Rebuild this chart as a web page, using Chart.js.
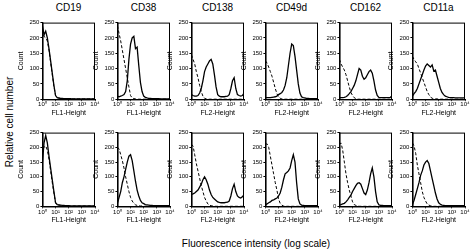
<!DOCTYPE html>
<html lang="en">
<head>
<meta charset="UTF-8">
<title>Relative cell number vs fluorescence</title>
<script src="https://cdn.jsdelivr.net/npm/chart.js"></script>
<style>
  html, body { margin: 0; padding: 0; background: #fff; }
  body {
    width: 471px; height: 251px; position: relative; overflow: hidden;
    font-family: 'Liberation Sans', Arial, sans-serif; color: #000;
  }
  canvas { position: absolute; }
  .ttl { position: absolute; width: 80px; text-align: center; font-size: 10px; line-height: 12px; }
  .ylab {
    position: absolute; left: 9px; top: 122px; font-size: 10px; white-space: nowrap;
    transform: translate(-50%, -50%) rotate(-90deg);
  }
  .xlab { position: absolute; left: 256px; top: 243px; font-size: 10px; white-space: nowrap; transform: translate(-50%, -50%); }
</style>
</head>
<body>
<div class="ylab">Relative cell number</div>
<div class="xlab">Fluorescence intensity (log scale)</div>

<script>
// channel value at each histogram bin (8 bins per decade)
const xPos = [1, 1.33, 1.78, 2.37, 3.16, 4.22, 5.62, 7.5, 10, 13.3, 17.8, 23.7, 31.6, 42.2, 56.2, 75,
  100, 133, 178, 237, 316, 422, 562, 750, 1000, 1334, 1778, 2371, 3162, 4217, 5623, 7499, 10000];

const markers = ['CD19', 'CD38', 'CD138', 'CD49d', 'CD162', 'CD11a'];
const channels = ['FL1-Height', 'FL1-Height', 'FL2-Height', 'FL2-Height', 'FL2-Height', 'FL2-Height'];
const decadeTicks = [1, 10, 100, 1000, 10000];
const decadeLabels = ['10⁰', '10¹', '10²', '10³', '10⁴'];

// top row: stained (solid) and control (dashed)
const cd19TopStained  = [240,210,222,200,165,125,85,45,12,5,4,3,3,2,2,2,2,2,1,1,1,1,1,1,1,1,1,1,1,1,1,1,1];
const cd19TopControl  = [225,205,200,190,160,120,80,42,12,5,3,3,2,2,1,1,1,1,1,1,1,1,1,1,1,1,1,1,1,1,1,1,1];
const cd38TopStained  = [10,8,10,12,15,25,60,130,180,200,205,165,170,110,55,25,10,6,4,3,3,2,2,2,2,2,1,1,1,1,1,1,1];
const cd38TopControl  = [240,215,190,160,130,100,70,40,12,4,2,1,0,0,0,0,0,0,0,0,0,0,0,0,0,0,0,0,0,0,0,0,0];
const cd138TopStained = [15,12,10,10,12,20,35,60,90,105,115,125,130,115,80,40,15,10,8,8,8,9,10,15,35,60,70,35,15,12,10,12,20];
const cd138TopControl = [145,130,115,90,70,45,25,10,3,1,0,0,0,0,0,0,0,0,0,0,0,0,0,0,0,0,0,0,0,0,0,0,0];
const cd49dTopStained = [5,5,5,5,6,7,8,10,15,18,22,30,45,70,110,150,180,175,140,95,50,20,8,5,4,3,3,2,2,2,2,2,2];
const cd49dTopControl = [125,118,105,90,75,55,35,18,8,3,1,0,0,0,0,0,0,0,0,0,0,0,0,0,0,0,0,0,0,0,0,0,0];
const cd162TopStained = [5,5,5,6,8,12,18,25,35,45,60,80,100,95,75,65,70,80,90,95,85,60,30,12,6,5,5,5,5,5,5,6,10];
const cd162TopControl = [130,115,105,95,80,60,40,22,12,5,2,0,0,0,0,0,0,0,0,0,0,0,0,0,0,0,0,0,0,0,0,0,0];
const cd11aTopStained = [10,18,25,35,50,65,80,95,108,115,110,105,112,92,95,75,55,35,22,15,10,8,6,5,5,5,4,4,4,4,4,4,4];
const cd11aTopControl = [140,130,122,115,100,85,70,55,40,25,15,7,3,2,1,1,0,0,0,0,0,0,0,0,0,0,0,0,0,0,0,0,0];

// bottom row
const cd19BotStained  = [150,215,240,215,170,130,90,50,12,6,5,4,3,3,2,2,2,1,1,1,1,1,1,1,1,1,1,1,1,1,1,1,1];
const cd19BotControl  = [200,200,205,190,160,120,80,45,12,5,4,3,2,2,1,1,1,1,1,1,1,1,1,1,1,1,1,1,1,1,1,1,1];
const cd38BotStained  = [10,30,50,80,100,125,150,170,175,155,120,85,55,35,20,12,9,6,5,4,3,3,2,2,2,2,2,2,2,2,2,2,2];
const cd38BotControl  = [200,195,175,155,130,100,75,50,30,18,10,5,3,2,1,1,0,0,0,0,0,0,0,0,0,0,0,0,0,0,0,0,0];
const cd138BotStained = [40,42,45,50,55,65,75,90,100,90,75,55,40,30,25,20,15,13,12,12,12,13,14,18,35,60,75,50,35,30,28,32,40];
const cd138BotControl = [210,205,175,145,120,95,70,50,30,18,8,4,2,1,0,0,0,0,0,0,0,0,0,0,0,0,0,0,0,0,0,0,0];
const cd49dBotStained = [5,8,12,15,20,22,25,28,35,45,65,90,110,115,120,130,155,175,150,80,25,8,4,3,2,2,2,2,2,2,2,2,2];
const cd49dBotControl = [210,212,200,170,140,110,80,55,25,10,4,1,0,0,0,0,0,0,0,0,0,0,0,0,0,0,0,0,0,0,0,0,0];
const cd162BotStained = [5,6,8,10,15,22,30,38,50,60,70,78,80,75,60,45,40,55,80,110,130,100,50,15,5,3,3,2,2,2,2,2,2];
const cd162BotControl = [210,215,190,150,110,80,55,35,15,6,3,1,0,0,0,0,0,0,0,0,0,0,0,0,0,0,0,0,0,0,0,0,0];
const cd11aBotStained = [5,20,40,60,80,105,120,140,150,155,145,120,95,70,45,25,12,7,4,3,2,2,2,2,2,2,2,2,2,2,2,2,2];
const cd11aBotControl = [215,205,180,140,110,80,50,30,18,8,4,2,1,0,0,0,0,0,0,0,0,0,0,0,0,0,0,0,0,0,0,0,0];

const topStained = [cd19TopStained, cd38TopStained, cd138TopStained, cd49dTopStained, cd162TopStained, cd11aTopStained];
const topControl = [cd19TopControl, cd38TopControl, cd138TopControl, cd49dTopControl, cd162TopControl, cd11aTopControl];
const botStained = [cd19BotStained, cd38BotStained, cd138BotStained, cd49dBotStained, cd162BotStained, cd11aBotStained];
const botControl = [cd19BotControl, cd38BotControl, cd138BotControl, cd49dBotControl, cd162BotControl, cd11aBotControl];

// page layout
const colLeft = [42, 117, 191, 265, 339, 412];
const plotW = 53;
const rows = [
  { top: 22, h: 83, stained: topStained, control: topControl },
  { top: 132, h: 80, stained: botStained, control: botControl }
];
const padT = 4, padR = 7, axisH = 18;

// draws the full frame around the plot area
const boxPlugin = {
  id: 'box',
  afterDraw(chart) {
    const a = chart.chartArea, ctx = chart.ctx;
    ctx.save();
    ctx.strokeStyle = '#000';
    ctx.lineWidth = 1;
    ctx.strokeRect(a.left + 0.5, a.top + 0.5, a.right - a.left - 1, a.bottom - a.top);
    ctx.restore();
  }
};

const tickFont = { family: "'Liberation Sans', Arial, sans-serif", size: 6 };
const titleFont = { family: "'Liberation Sans', Arial, sans-serif", size: 7 };

function toPoints(ys) {
  return xPos.map((x, i) => ({ x: x, y: ys[i] }));
}

markers.forEach((name, c) => {
  const t = document.createElement('div');
  t.className = 'ttl';
  t.textContent = name;
  t.style.left = (colLeft[c] + plotW / 2 - 40) + 'px';
  t.style.top = '2px';
  document.body.appendChild(t);
});

rows.forEach((row, r) => {
  markers.forEach((name, c) => {
    const cv = document.createElement('canvas');
    const w0 = 30 + plotW + padR, h = padT + row.h + axisH;
    cv.width = w0; cv.height = h;
    cv.style.top = (row.top - padT) + 'px';
    document.body.appendChild(cv);

    const chart = new Chart(cv.getContext('2d'), {
      type: 'line',
      data: {
        datasets: [
          {
            data: toPoints(row.control[c]),
            borderColor: '#000', borderWidth: 1, borderDash: [3, 2],
            pointRadius: 0, tension: 0, fill: false
          },
          {
            data: toPoints(row.stained[c]),
            borderColor: '#000', borderWidth: 1.3,
            pointRadius: 0, tension: 0, fill: false
          }
        ]
      },
      options: {
        responsive: false,
        animation: false,
        events: [],
        layout: { padding: { top: padT, right: padR, left: 0, bottom: 0 } },
        plugins: { legend: { display: false }, tooltip: { enabled: false } },
        scales: {
          x: {
            type: 'logarithmic', min: 1, max: 10000,
            afterBuildTicks: s => { s.ticks = decadeTicks.map(v => ({ value: v })); },
            afterFit: s => { s.height = axisH; },
            ticks: {
              color: '#000', font: tickFont, padding: 0, maxRotation: 0, autoSkip: false,
              callback: v => decadeLabels[decadeTicks.indexOf(v)]
            },
            grid: { display: true, drawOnChartArea: false, drawTicks: true, tickLength: 2, color: '#000' },
            border: { display: true, color: '#000', width: 1.3 },
            title: { display: true, text: channels[c], color: '#000', font: titleFont, padding: 0 }
          },
          y: {
            type: 'linear', min: 0, max: 250,
            ticks: { display: true, stepSize: 50, autoSkip: false, color: '#000', font: tickFont, padding: 1,
              callback: v => String(v) },
            grid: { display: true, drawOnChartArea: false, drawTicks: true, tickLength: 2, color: '#000' },
            border: { display: true, color: '#000', width: 1.3 },
            title: { display: true, text: 'Count', color: '#000', font: titleFont, padding: { top: 0, bottom: 3 } }
          }
        }
      },
      plugins: [boxPlugin]
    });

    // fit the canvas so the plot area is exactly plotW wide and starts at its column
    const yw = chart.chartArea.left;
    const w = Math.round(yw + plotW + padR);
    chart.resize(w, h);
    cv.style.left = (colLeft[c] - chart.chartArea.left) + 'px';
  });
});
</script>
</body>
</html>
